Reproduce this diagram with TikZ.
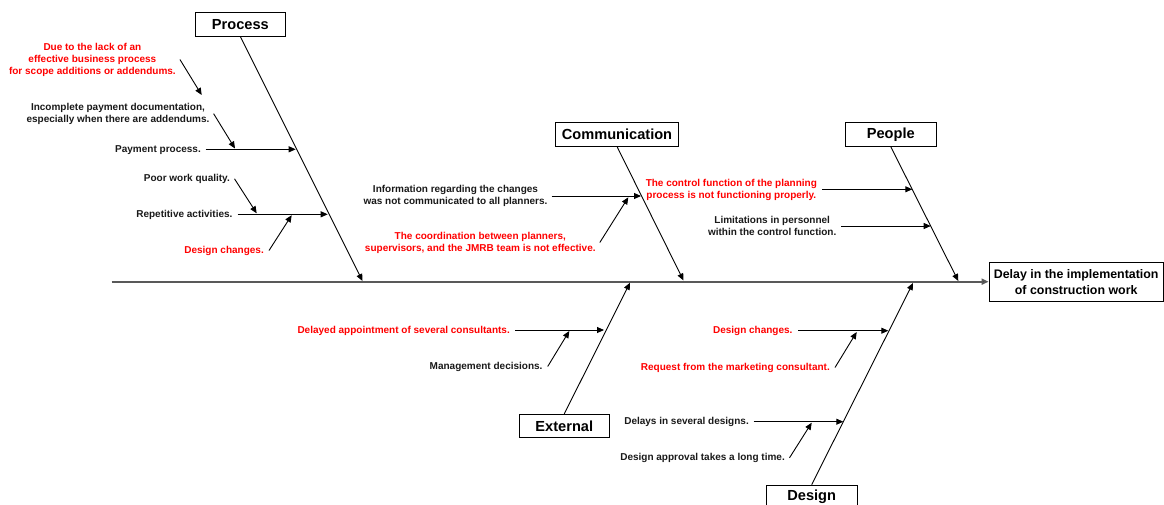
\documentclass[tikz,border=0pt]{standalone}
\usepackage{fontspec}
\setmainfont{Liberation Sans}
\usetikzlibrary{arrows.meta}
\begin{document}
\begin{tikzpicture}[x=1pt,y=-1pt,
  lbl/.style={inner sep=0pt, font=\fontsize{10}{12}\selectfont\bfseries, align=center, text=black!90},
  redlbl/.style={lbl, text=red},
  cat/.style={draw, line width=0.9pt, minimum width=90.5pt, minimum height=23.5pt, inner xsep=6pt, inner ysep=0pt, font=\fontsize{14.6}{16}\selectfont\bfseries},
  bone/.style={line width=0.9pt, -{Triangle[length=7pt,width=6pt]}},
  sub/.style={line width=0.9pt, -{Triangle[length=7pt,width=6pt]}},
  spine/.style={line width=1.8pt, draw=black!65, -{Triangle[length=7pt,width=6pt,fill=black]}}
]
\useasboundingbox (0,0) rectangle (1164,504);

% head
\node[draw, line width=0.9pt, minimum width=174.3pt, minimum height=38.7pt, inner sep=2pt,
      align=center, font=\fontsize{12.4}{16}\selectfont\bfseries] (head) at (1076.2,281.7)
      {Delay in the implementation\\of construction work};
\coordinate (tail) at (111.7,281.7);
\draw[spine] (tail) -- (head.west);

% category boxes
\node[cat] (proc) at (240.35,24.3) {Process};
\node[cat] (comm) at (617,134.3) {Communication};
\node[cat] (peop) at (890.8,134.6) {People};
\node[cat] (ext)  at (564.3,426) {External};
\node[cat] (des)  at (811.7,496.8) {Design};

% bone tips
\coordinate (tproc) at (362.5,281);
\coordinate (tcomm) at (683.5,280.5);
\coordinate (tpeop) at (958.3,281);
\coordinate (text) at (630,282.7);
\coordinate (tdes) at (913,283);
\draw[bone] (proc.south) -- (tproc);
\draw[bone] (comm.south) -- (tcomm);
\draw[bone] (peop.south) -- (tpeop);
\draw[bone] (ext.north) -- (text);
\draw[bone] (des.north) -- (tdes);

% Process causes
\node[redlbl] (pr1) at (92.4,59.5) {Due to the lack of an\\effective business process\\for scope additions or addendums.};
\node[lbl] (pr2) at (118,113.7) {Incomplete payment documentation,\\especially when there are addendums.};
\node[lbl, anchor=east] (pr3) at (201,149.8) {Payment process.};
\node[lbl, anchor=east] (pr4) at (230,178.8) {Poor work quality.};
\node[lbl, anchor=east] (pr5) at (232.7,214.8) {Repetitive activities.};
\node[redlbl, anchor=east] (pr6) at (264,250.5) {Design changes.};
\coordinate (tpr1) at (201.7,95);
\coordinate (tpr2) at (235,148.5);
\coordinate (tpr3) at (295.7,149.3);
\coordinate (tpr4) at (256.7,213.3);
\coordinate (tpr5) at (327.7,214.3);
\coordinate (tpr6) at (291.7,215.2);
\draw[sub] ([xshift=4pt]pr1.east) -- (tpr1);
\draw[sub] ([xshift=4pt]pr2.east) -- (tpr2);
\draw[sub] ([xshift=4.7pt]pr3.east |- tpr3) -- (tpr3);
\draw[sub] ([xshift=4.5pt]pr4.east) -- (tpr4);
\draw[sub] ([xshift=5pt]pr5.east |- tpr5) -- (tpr5);
\draw[sub] ([xshift=5pt]pr6.east) -- (tpr6);

% Communication causes
\node[lbl] (co1) at (455.5,196) {Information regarding the changes\\was not communicated to all planners.};
\node[redlbl] (co2) at (480.3,242.5) {The coordination between planners,\\supervisors, and the JMRB team is not effective.};
\coordinate (tco1) at (641,196);
\coordinate (tco2) at (628.3,197.3);
\draw[sub] ([xshift=4pt]co1.east |- tco1) -- (tco1);
\draw[sub] ([xshift=4pt]co2.east) -- (tco2);

% People causes
\node[redlbl] (pe1) at (731.3,190) {The control function of the planning\\process is not functioning properly.};
\node[lbl] (pe2) at (772.2,225.7) {Limitations in personnel\\within the control function.};
\coordinate (tpe1) at (912.3,189.3);
\coordinate (tpe2) at (930.7,226);
\draw[sub] ([xshift=5pt]pe1.east |- tpe1) -- (tpe1);
\draw[sub] ([xshift=4.5pt]pe2.east |- tpe2) -- (tpe2);

% External causes
\node[redlbl, anchor=east] (ex1) at (510,330.5) {Delayed appointment of several consultants.};
\node[lbl, anchor=east] (ex2) at (542.7,366.5) {Management decisions.};
\coordinate (tex1) at (604,330);
\coordinate (tex2) at (569.3,331);
\draw[sub] ([xshift=5pt]ex1.east |- tex1) -- (tex1);
\draw[sub] ([xshift=5pt]ex2.east) -- (tex2);

% Design causes
\node[redlbl, anchor=east] (de1) at (792.7,331.2) {Design changes.};
\node[redlbl, anchor=east] (de2) at (830,367.5) {Request from the marketing consultant.};
\node[lbl, anchor=east] (de3) at (749,422.2) {Delays in several designs.};
\node[lbl, anchor=east] (de4) at (785,457.8) {Design approval takes a long time.};
\coordinate (tde1) at (888.3,330.7);
\coordinate (tde2) at (856.7,332);
\coordinate (tde3) at (843.3,421.7);
\coordinate (tde4) at (811.7,422.7);
\draw[sub] ([xshift=5.5pt]de1.east |- tde1) -- (tde1);
\draw[sub] ([xshift=5pt]de2.east) -- (tde2);
\draw[sub] ([xshift=4.5pt]de3.east |- tde3) -- (tde3);
\draw[sub] ([xshift=4.5pt]de4.east) -- (tde4);
\end{tikzpicture}
\end{document}
